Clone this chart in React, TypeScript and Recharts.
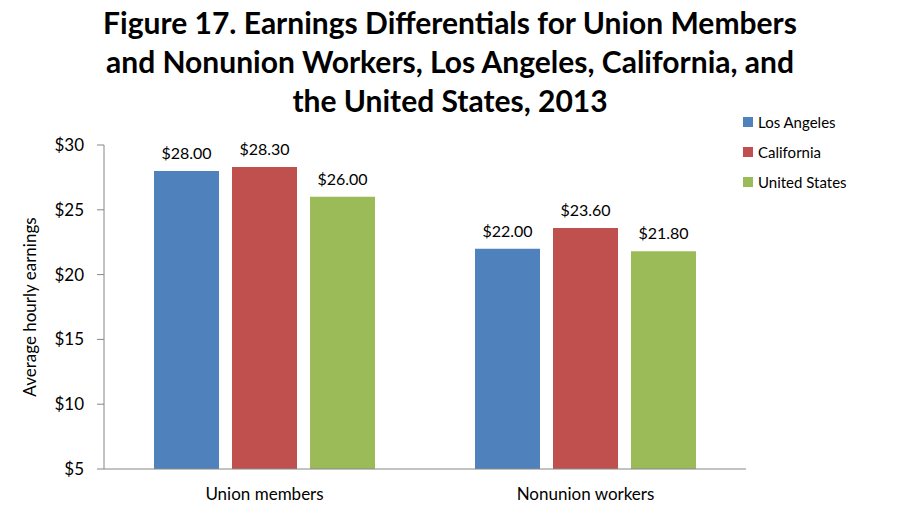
import { BarChart, Bar, XAxis, YAxis, LabelList } from 'recharts';

const categories = ['Union members', 'Nonunion workers'];
const losAngeles = [28.0, 22.0];
const california = [28.3, 23.6];
const unitedStates = [26.0, 21.8];
const yTicks = [5, 10, 15, 20, 25, 30];
const edgeTicks = [0, 1, 2];

const series = [
  { key: 'la', name: 'Los Angeles', color: '#4F81BD' },
  { key: 'ca', name: 'California', color: '#C0504D' },
  { key: 'us', name: 'United States', color: '#9BBB59' },
];

const data = categories.map((name, i) => ({
  name,
  la: losAngeles[i],
  ca: california[i],
  us: unitedStates[i],
}));

const FONT = 'Lato, "Open Sans", sans-serif';
const money = (v: number) => `$${v.toFixed(2)}`;

export default function App() {
  return (
    <div style={{ position: 'absolute', left: 0, top: 0, width: 898, height: 516, background: '#fff', fontFamily: FONT }}>
      <div
        style={{
          position: 'absolute',
          left: 0,
          top: 3,
          width: 900,
          textAlign: 'center',
          fontSize: 30,
          fontWeight: 700,
          lineHeight: '39px',
          color: '#000',
        }}
      >
        Figure 17. Earnings Differentials for Union Members
        <br />
        and Nonunion Workers, Los Angeles, California, and
        <br />
        the United States, 2013
      </div>
      {/* legend kept outside the chart so it doesn't shrink the plot */}
      <div style={{ position: 'absolute', left: 743, top: 107 }}>
        {series.map((s) => (
          <div key={s.key} style={{ display: 'flex', alignItems: 'center', height: 30, fontSize: 15, color: '#000' }}>
            <span style={{ width: 10, height: 10, background: s.color, marginRight: 5, display: 'inline-block' }} />
            {s.name}
          </div>
        ))}
      </div>
      <BarChart
        width={898}
        height={516}
        data={data}
        margin={{ top: 145, right: 152, bottom: 17, left: 44 }}
        barCategoryGap={50}
        barGap={13}
        style={{ position: 'absolute', left: 0, top: 0 }}
      >
        <XAxis
          xAxisId="a_edge"
          type="number"
          domain={[0, 2]}
          ticks={edgeTicks}
          tick={false}
          tickSize={6}
          height={1}
          stroke="#868686"
        />
        <XAxis
          xAxisId="b_cat"
          dataKey="name"
          axisLine={false}
          tickLine={false}
          height={29}
          tickMargin={12}
          tick={{ fill: '#000', fontSize: 17, fontFamily: FONT }}
        />
        <YAxis
          domain={[5, 30]}
          ticks={yTicks}
          width={60}
          tickSize={7}
          tickMargin={13}
          stroke="#868686"
          tickFormatter={(v: number) => `$${v}`}
          tick={{ fill: '#000', fontSize: 17, fontFamily: FONT }}
          label={{
            value: 'Average hourly earnings',
            angle: -90,
            position: 'center',
            dx: -44,
            style: { fill: '#000', fontSize: 17, fontFamily: FONT, textAnchor: 'middle' },
          }}
          allowDataOverflow
        />
        {series.map((s) => (
          <Bar key={s.key} xAxisId="b_cat" dataKey={s.key} name={s.name} fill={s.color} isAnimationActive={false}>
            <LabelList
              dataKey={s.key}
              position="top"
              offset={12}
              formatter={(v: any) => money(Number(v))}
              style={{ fill: '#000', fontSize: 16, fontFamily: FONT }}
            />
          </Bar>
        ))}
      </BarChart>
    </div>
  );
}
